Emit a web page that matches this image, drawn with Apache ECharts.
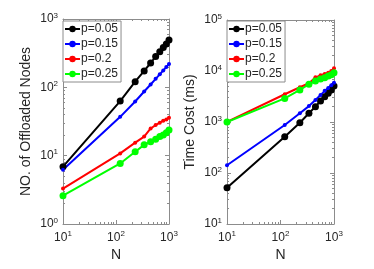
<!DOCTYPE html>
<html><head><meta charset="utf-8">
<script src="https://cdn.jsdelivr.net/npm/echarts@6/dist/echarts.min.js"></script>
<style>html,body{margin:0;padding:0;background:#fff}#c{width:374px;height:269px}</style>
</head><body><div id="c"></div>
<script>
const N = [10, 120, 230, 340, 450, 560, 670, 780, 890, 1000];
const seriesNames = ['p=0.05', 'p=0.15', 'p=0.2', 'p=0.25'];
// Left: number of offloaded nodes
const nodes_p005 = [6.9, 63, 121, 174, 227, 282, 333, 382, 432, 493];
const nodes_p015 = [6.2, 37, 62, 87, 110, 133, 155, 177, 198, 220];
const nodes_p02  = [3.3, 10.8, 15.5, 19, 25, 28, 30.4, 32.5, 33.7, 36];
const nodes_p025 = [2.6, 7.7, 11.4, 14.4, 16, 17.4, 19, 20, 21.7, 23.8];
// Right: time cost (ms)
const time_p005 = [51.5, 515, 968, 1480, 2000, 2580, 3140, 3650, 4250, 5080];
const time_p015 = [142, 875, 1480, 2050, 2700, 3370, 4080, 4650, 5250, 5900];
const time_p02  = [1010, 3500, 4800, 5750, 7500, 8230, 8730, 9260, 10000, 11300];
const time_p025 = [1000, 2900, 4250, 5500, 6350, 6950, 7400, 7950, 8450, 9260];
const leftYTicks = [1, 10, 100, 1000];
const rightYTicks = [10, 100, 1000, 10000, 100000];
const xTicks = [10, 100, 1000];

const colors = ['#000000', '#0000ff', '#ff0000', '#00ff00'];
const symbolSizes = [7, 4, 4, 7];
const textColor = '#262626';
const axisColor = '#8c8c8c';

const rich = {
  b: {fontSize: 12, color: textColor, fontFamily: 'Liberation Sans'},
  s: {fontSize: 8, color: textColor, fontFamily: 'Liberation Sans', verticalAlign: 'bottom', padding: [0, 0, 7, 0]}
};
function fmt(v) {
  const e = Math.round(Math.log10(v));
  return '{b|10}{s|' + e + '}';
}

function xAxis(gridIndex, pos) {
  return {
    type: 'log', logBase: 10, gridIndex, position: pos, min: xTicks[0], max: xTicks[xTicks.length - 1],
    axisLine: {show: true, lineStyle: {color: axisColor, width: 1}},
    axisTick: {show: true, inside: true, length: 4, lineStyle: {color: axisColor}},
    minorTick: {show: true, splitNumber: 9, length: 2, lineStyle: {color: axisColor}},
    splitLine: {show: false},
    axisLabel: {show: pos === 'bottom', formatter: fmt, rich, margin: 6},
    name: pos === 'bottom' ? 'N' : '', nameLocation: 'middle', nameGap: 24,
    nameTextStyle: {fontSize: 14, color: textColor, fontFamily: 'Liberation Sans'}
  };
}
function yAxis(gridIndex, pos, ticks, name) {
  return {
    type: 'log', logBase: 10, gridIndex, position: pos, min: ticks[0], max: ticks[ticks.length - 1],
    axisLine: {show: true, lineStyle: {color: axisColor, width: 1}},
    axisTick: {show: true, inside: true, length: 4, lineStyle: {color: axisColor}},
    minorTick: {show: true, splitNumber: 9, length: 2, lineStyle: {color: axisColor}},
    splitLine: {show: false},
    axisLabel: {show: pos === 'left', formatter: fmt, rich, margin: 5},
    name: pos === 'left' ? name : '', nameLocation: 'middle', nameGap: 30,
    nameTextStyle: {fontSize: 14, color: textColor, fontFamily: 'Liberation Sans'}
  };
}

function mk(name, i, xs, ys, axisIdx) {
  return {
    name, type: 'line', xAxisIndex: axisIdx, yAxisIndex: axisIdx,
    data: xs.map((x, k) => [x, ys[k]]),
    symbol: 'circle', symbolSize: symbolSizes[i], showSymbol: true,
    lineStyle: {color: colors[i], width: 2},
    itemStyle: {color: colors[i]},
    emphasis: {disabled: true}, animation: false
  };
}

const leftData = [nodes_p005, nodes_p015, nodes_p02, nodes_p025];
const rightData = [time_p005, time_p015, time_p02, time_p025];
const series = [];
seriesNames.forEach((n, i) => series.push(mk(n, i, N, leftData[i], 0)));
seriesNames.forEach((n, i) => series.push(mk(n, i, N, rightData[i], 2)));

function legend(left) {
  return {
    left, top: 21, orient: 'vertical', data: seriesNames,
    backgroundColor: '#fff', borderColor: axisColor, borderWidth: 1, borderRadius: 0,
    padding: [1, 3, 1, 1], itemGap: 1, itemWidth: 15, itemHeight: 8,
    textStyle: {fontSize: 12, color: textColor, fontFamily: 'Liberation Sans', padding: [0, 0, 0, -4], lineHeight: 14},
    selectedMode: false
  };
}

const chart = echarts.init(document.getElementById('c'), null, {renderer: 'canvas'});
chart.setOption({
  animation: false,
  backgroundColor: '#fff',
  grid: [
    {left: 63, top: 19, width: 106, height: 205},
    {left: 227, top: 20, width: 107, height: 204}
  ],
  xAxis: [xAxis(0, 'bottom'), xAxis(0, 'top'), xAxis(1, 'bottom'), xAxis(1, 'top')],
  yAxis: [
    yAxis(0, 'left', leftYTicks, 'NO. of Offloaded Nodes'),
    yAxis(0, 'right', leftYTicks, ''),
    yAxis(1, 'left', rightYTicks, 'Time Cost (ms)'),
    yAxis(1, 'right', rightYTicks, '')
  ],
  legend: [legend(63), legend(227)],
  series
});
</script></body></html>
